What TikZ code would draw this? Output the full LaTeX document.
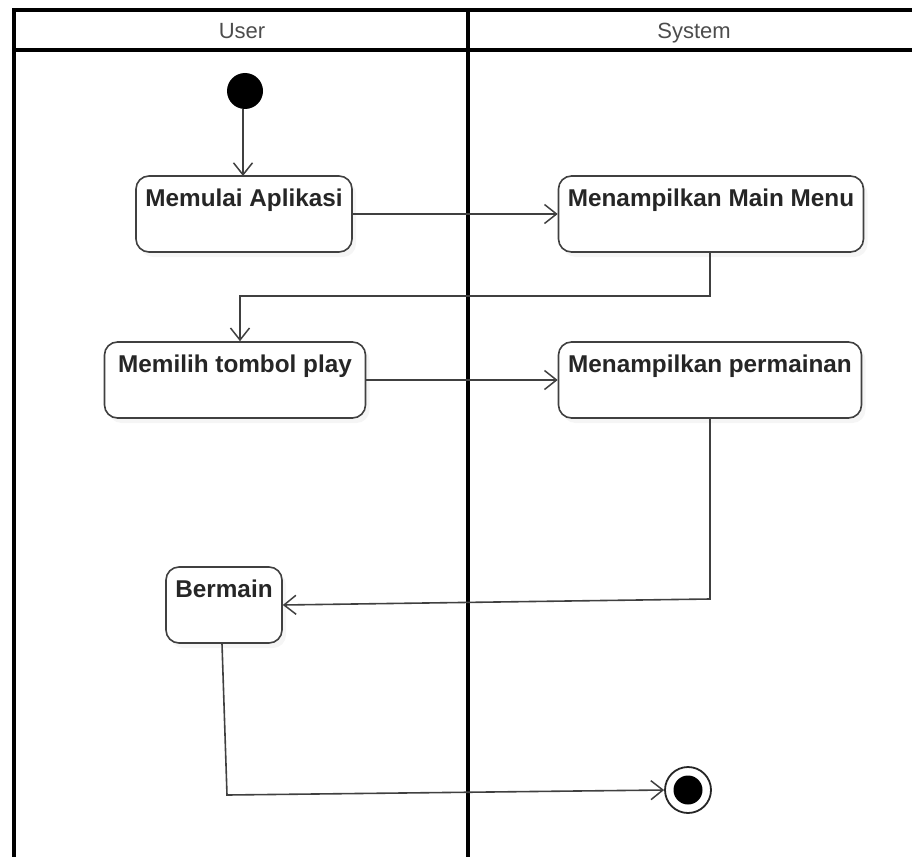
\documentclass[tikz,border=0pt]{standalone}
\usepackage{fontspec}
\setmainfont{Liberation Sans}
\usetikzlibrary{arrows.meta,shadows}
\begin{document}
\begin{tikzpicture}[x=1pt,y=-1pt,
  lane/.style={line width=3.2pt,black},
  act/.style={draw=black!75,line width=1.6pt,rounded corners=13pt,fill=white,
    drop shadow={shadow xshift=4pt,shadow yshift=-5pt,opacity=0.08},
    inner sep=0pt},
  acttext/.style={anchor=north,inner sep=0pt,font=\fontsize{24.3}{27}\selectfont\bfseries,text=black!85},
  head/.style={anchor=base,inner sep=0pt,font=\fontsize{22}{24}\selectfont,text=black!70},
  flow/.style={draw=black!75,line width=1.6pt,
    -{Straight Barb[length=12pt,width=19pt,line width=1.5pt]}},
  plain/.style={draw=black!75,line width=1.6pt}]
\useasboundingbox (0,0) rectangle (912,856);

% swimlane frame
\draw[lane] (14,870) -- (14,10) -- (930,10);
\draw[lane] (14,50) -- (930,50);
\draw[lane] (468,10) -- (468,870);
\node[head] (huser) at (242,39) {User};
\node[head] (hsys) at (694,39) {System};

% start and end states
\node[circle,fill=black,minimum size=36pt,inner sep=0pt] (start) at (245,91) {};
\node[circle,draw=black!85,line width=1.8pt,fill=white,minimum size=46pt,inner sep=0pt] (end) at (688,790) {};
\node[circle,fill=black,minimum size=29pt,inner sep=0pt] (endin) at (end) {};

% activities
\node[act,minimum width=216pt,minimum height=76pt] (a1) at (244,214) {};
\node[acttext] (t1) at ([yshift=-13pt]a1.north) {Memulai Aplikasi};
\node[act,minimum width=305pt,minimum height=76pt] (a2) at (711,214) {};
\node[acttext] (t2) at ([yshift=-13pt]a2.north) {Menampilkan Main Menu};
\node[act,minimum width=261pt,minimum height=76pt] (a3) at (235,380) {};
\node[acttext] (t3) at ([yshift=-13pt]a3.north) {Memilih tombol play};
\node[act,minimum width=303pt,minimum height=76pt] (a4) at (710,380) {};
\node[acttext] (t4) at ([yshift=-13pt]a4.north) {Menampilkan permainan};
\node[act,minimum width=116pt,minimum height=76pt] (a5) at (224,605) {};
\node[acttext] (t5) at ([yshift=-13pt]a5.north) {Bermain};

% control flow
\coordinate (c1) at (710,296);
\coordinate (c2) at (240,296);
\coordinate (c3) at (710,599);
\coordinate (c4) at (227,795);

\draw[flow] (start.south -| 243,0) -- (243,176);
\draw[flow] (a1.east) -- (a2.west);
\draw[flow] (a2.south -| c1) -- (c1) -- (c2) -- (a3.north -| c2);
\draw[flow] (a3.east) -- (a4.west);
\draw[flow] (a4.south -| c3) -- (c3) -- (a5.east);
\draw[flow] (a5.south -| 222,0) -- (c4) -- (end.west);
\end{tikzpicture}
\end{document}
